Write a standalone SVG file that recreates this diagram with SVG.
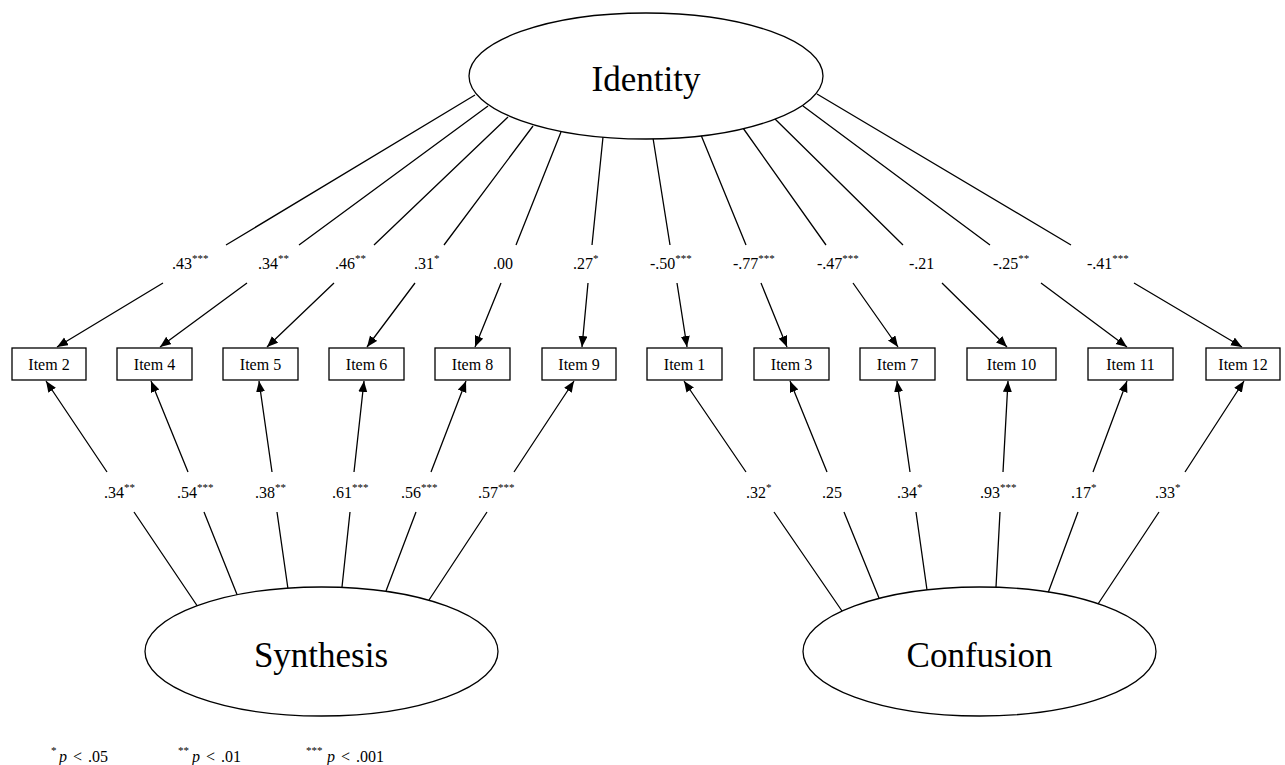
<svg xmlns="http://www.w3.org/2000/svg" width="1285" height="765" viewBox="0 0 1285 765">
<style>
text{font-family:"Liberation Serif","Times New Roman",serif;fill:#000}
.lat{font-size:35px;text-anchor:middle}
.item{font-size:16px;text-anchor:middle}
.lab{font-size:16px}
.sup{font-size:11px}
.leg{font-size:16px;word-spacing:2px}
ellipse,rect{fill:#fff;stroke:#000;stroke-width:1.3}
.c path{fill:none;stroke:#000;stroke-width:1.3}
.arr{marker-end:url(#ah)}
</style>
<defs>
<marker id="ah" markerUnits="userSpaceOnUse" markerWidth="12" markerHeight="10" refX="11" refY="4.5" orient="auto">
<path d="M0,0 L11,4.5 L0,9 z" fill="#000"/>
</marker>
</defs>
<g class="c" id="connectors">
<path class="arr" d="M475,95 L226,245 M163,283 L57,347"/>
<path class="arr" d="M488,106 L299,245 M247,283 L160,347"/>
<path class="arr" d="M508,117 L374,245 M334,283 L267,347"/>
<path class="arr" d="M533,126 L444,245 M415,283 L367,347"/>
<path class="arr" d="M561,132 L516,245 M501,283 L475,347"/>
<path class="arr" d="M603,137 L592,245 M588,283 L582,347"/>
<path class="arr" d="M653,138 L670,245 M677,283 L687,347"/>
<path class="arr" d="M701,135 L746,245 M761,283 L787,347"/>
<path class="arr" d="M743,128 L826,245 M853,283 L898,347"/>
<path class="arr" d="M774,118 L903,245 M942,283 L1007,347"/>
<path class="arr" d="M803,106 L990,245 M1041,283 L1127,347"/>
<path class="arr" d="M817,94 L1071,245 M1134,283 L1242,347"/>
<path class="arr" d="M198,607 L134,512 M107,472 L46,381"/>
<path class="arr" d="M238,597 L204,512 M188,472 L151,381"/>
<path class="arr" d="M288,589 L277,512 M272,472 L259,381"/>
<path class="arr" d="M342,587 L350,512 M354,472 L364,381"/>
<path class="arr" d="M386,591 L416,512 M431,472 L466,381"/>
<path class="arr" d="M429,600 L487,512 M514,472 L574,381"/>
<path class="arr" d="M842,611 L774,512 M746,472 L684,381"/>
<path class="arr" d="M879,598 L844,512 M827,472 L790,381"/>
<path class="arr" d="M927,590 L916,512 M910,472 L897,381"/>
<path class="arr" d="M996,587 L1000,512 M1003,472 L1008,381"/>
<path class="arr" d="M1048,593 L1078,512 M1093,472 L1127,381"/>
<path class="arr" d="M1098,604 L1159,512 M1185,472 L1244,381"/>
</g>
<g id="labels">
<text class="lab" x="172" y="269">.43<tspan class="sup" dy="-7">***</tspan></text>
<text class="lab" x="258" y="269">.34<tspan class="sup" dy="-7">**</tspan></text>
<text class="lab" x="335" y="269">.46<tspan class="sup" dy="-7">**</tspan></text>
<text class="lab" x="414" y="269">.31<tspan class="sup" dy="-7">*</tspan></text>
<text class="lab" x="493" y="269">.00</text>
<text class="lab" x="573" y="269">.27<tspan class="sup" dy="-7">*</tspan></text>
<text class="lab" x="650" y="269">-.50<tspan class="sup" dy="-7">***</tspan></text>
<text class="lab" x="733" y="269">-.77<tspan class="sup" dy="-7">***</tspan></text>
<text class="lab" x="817" y="269">-.47<tspan class="sup" dy="-7">***</tspan></text>
<text class="lab" x="909" y="269">-.21</text>
<text class="lab" x="993" y="269">-.25<tspan class="sup" dy="-7">**</tspan></text>
<text class="lab" x="1087" y="269">-.41<tspan class="sup" dy="-7">***</tspan></text>
<text class="lab" x="104" y="498">.34<tspan class="sup" dy="-7">**</tspan></text>
<text class="lab" x="177" y="498">.54<tspan class="sup" dy="-7">***</tspan></text>
<text class="lab" x="255" y="498">.38<tspan class="sup" dy="-7">**</tspan></text>
<text class="lab" x="332" y="498">.61<tspan class="sup" dy="-7">***</tspan></text>
<text class="lab" x="401" y="498">.56<tspan class="sup" dy="-7">***</tspan></text>
<text class="lab" x="478" y="498">.57<tspan class="sup" dy="-7">***</tspan></text>
<text class="lab" x="746" y="498">.32<tspan class="sup" dy="-7">*</tspan></text>
<text class="lab" x="822" y="498">.25</text>
<text class="lab" x="897" y="498">.34<tspan class="sup" dy="-7">*</tspan></text>
<text class="lab" x="980" y="498">.93<tspan class="sup" dy="-7">***</tspan></text>
<text class="lab" x="1071" y="498">.17<tspan class="sup" dy="-7">*</tspan></text>
<text class="lab" x="1155" y="498">.33<tspan class="sup" dy="-7">*</tspan></text>
</g>
<g id="identity"><ellipse cx="646" cy="76" rx="177" ry="63"/><text class="lat" x="646" y="91">Identity</text></g>
<g id="synthesis"><ellipse cx="321.5" cy="651.5" rx="176.5" ry="64.5"/><text class="lat" x="321" y="667">Synthesis</text></g>
<g id="confusion"><ellipse cx="979.5" cy="651.5" rx="176.5" ry="64.5"/><text class="lat" x="979.5" y="667">Confusion</text></g>
<g id="item2"><rect x="12" y="348" width="74" height="32"/><text class="item" x="49" y="370">Item 2</text></g>
<g id="item4"><rect x="117" y="348" width="75" height="32"/><text class="item" x="154.5" y="370">Item 4</text></g>
<g id="item5"><rect x="223" y="348" width="75" height="32"/><text class="item" x="260.5" y="370">Item 5</text></g>
<g id="item6"><rect x="329" y="348" width="75" height="32"/><text class="item" x="366.5" y="370">Item 6</text></g>
<g id="item8"><rect x="435" y="348" width="75" height="32"/><text class="item" x="472.5" y="370">Item 8</text></g>
<g id="item9"><rect x="542" y="348" width="74" height="32"/><text class="item" x="579" y="370">Item 9</text></g>
<g id="item1"><rect x="647" y="348" width="75" height="32"/><text class="item" x="684.5" y="370">Item 1</text></g>
<g id="item3"><rect x="754" y="348" width="75" height="32"/><text class="item" x="791.5" y="370">Item 3</text></g>
<g id="item7"><rect x="860" y="348" width="75" height="32"/><text class="item" x="897.5" y="370">Item 7</text></g>
<g id="item10"><rect x="967" y="348" width="89" height="32"/><text class="item" x="1011.5" y="370">Item 10</text></g>
<g id="item11"><rect x="1088" y="348" width="85" height="32"/><text class="item" x="1130.5" y="370">Item 11</text></g>
<g id="item12"><rect x="1206" y="348" width="74" height="32"/><text class="item" x="1243" y="370">Item 12</text></g>
<g id="legend">
<text class="sup" x="51" y="754">*</text>
<text class="leg" x="59" y="762"><tspan font-style="italic">p</tspan> &lt; .05</text>
<text class="sup" x="178" y="754">**</text>
<text class="leg" x="192" y="762"><tspan font-style="italic">p</tspan> &lt; .01</text>
<text class="sup" x="306" y="754">***</text>
<text class="leg" x="327" y="762"><tspan font-style="italic">p</tspan> &lt; .001</text>
</g>
</svg>
